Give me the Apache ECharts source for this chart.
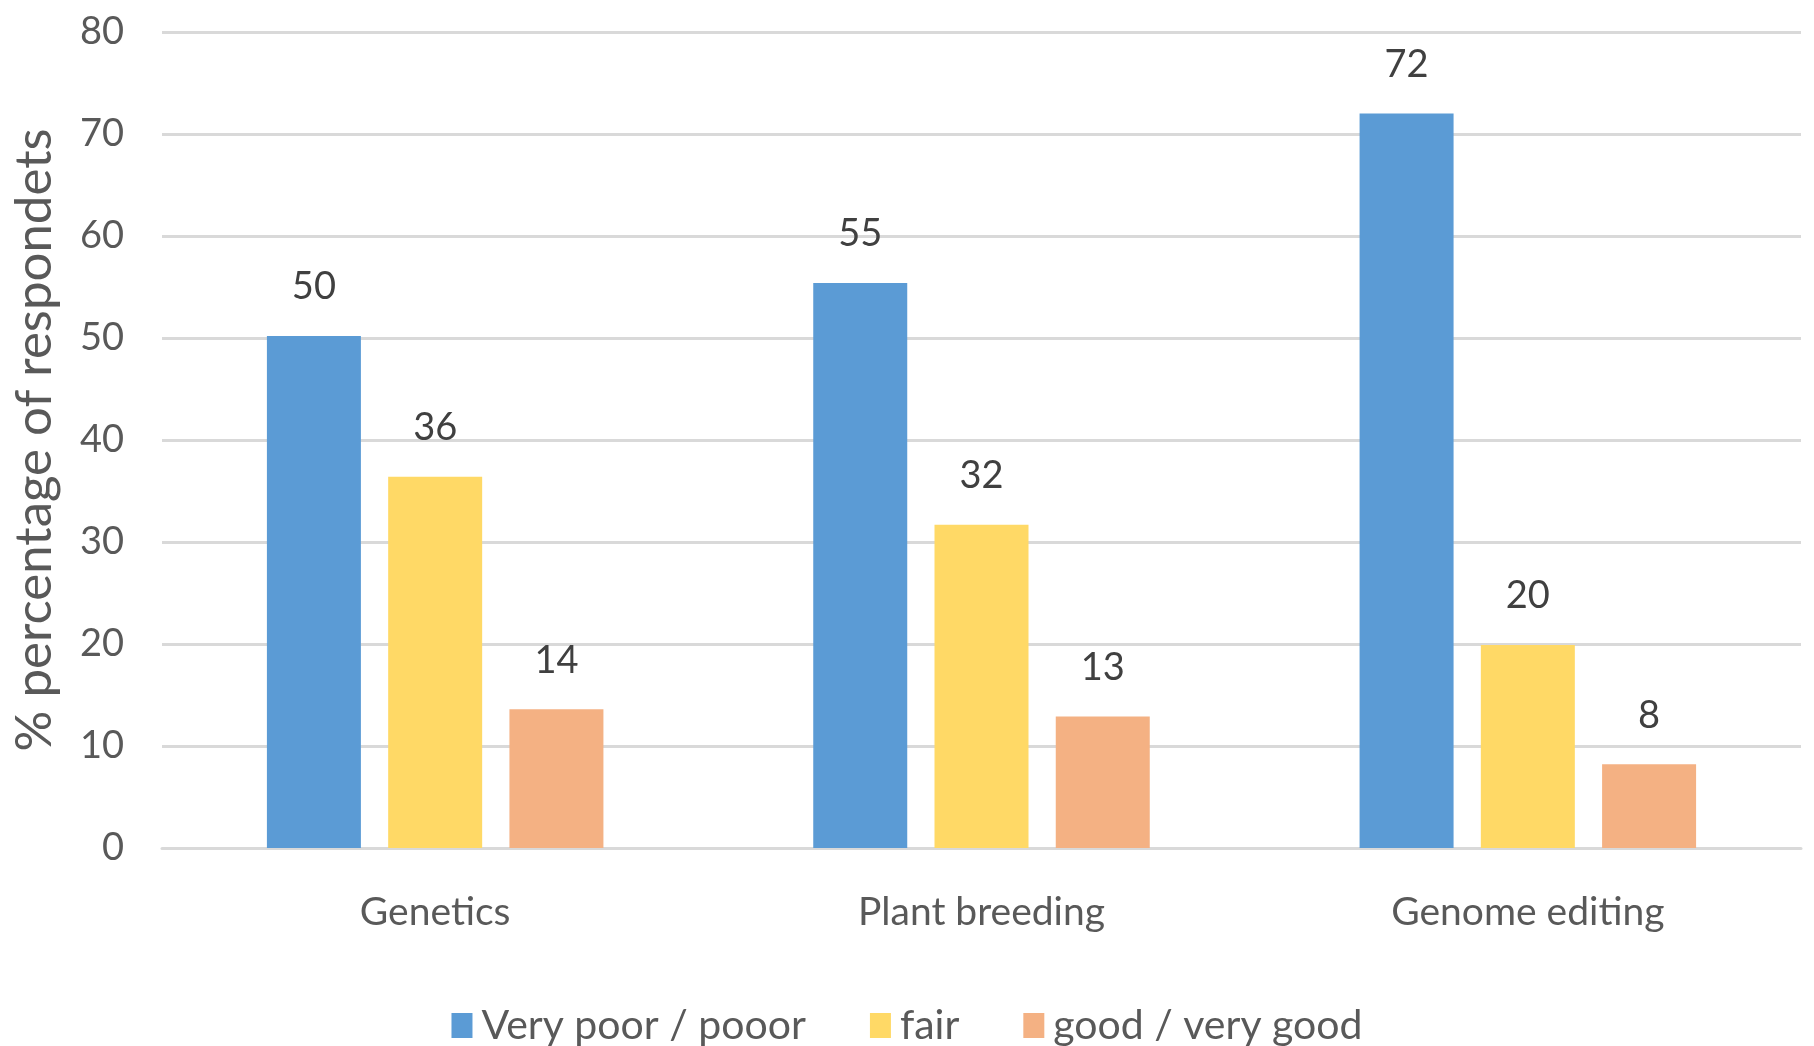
<!DOCTYPE html>
<html>
<head>
<meta charset="utf-8">
<script src="https://cdn.jsdelivr.net/npm/echarts@6/dist/echarts.min.js"></script>
<style>
  html, body { margin: 0; padding: 0; background: #fff; }
  #chart { width: 1814px; height: 1046px; }
</style>
</head>
<body>
<div id="chart"></div>
<script>
var categories = ['Genetics', 'Plant breeding', 'Genome editing'];
var seriesNames = ['Very poor / pooor', 'fair', 'good / very good'];
var veryPoor = [50.2, 55.4, 72.0];
var fair = [36.4, 31.7, 19.9];
var good = [13.6, 12.9, 8.2];
var yTicks = [0, 10, 20, 30, 40, 50, 60, 70, 80];

var colors = ['#5B9BD5', '#FFD966', '#F4B183'];
var font = 'Lato';

var myChart = echarts.init(document.getElementById('chart'));

function barSeries(name, data, color) {
    return {
        name: name,
        type: 'bar',
        barWidth: 94,
        barGap: '29%',
        data: data,
        itemStyle: { color: color },
        label: {
            show: true,
            position: 'top',
            distance: 30,
            color: '#404040',
            fontFamily: font,
            fontSize: 38,
            formatter: function (p) { return Math.round(p.value); }
        }
    };
}

var option = {
    animation: false,
    backgroundColor: '#fff',
    grid: {
        left: 162,
        right: 13,
        top: 32,
        bottom: 198,
        outerBoundsMode: 'none'
    },
    legend: {
        top: 1000,
        left: 'center',
        itemWidth: 21,
        itemHeight: 25,
        itemGap: 64,
        icon: 'rect',
        data: seriesNames,
        textStyle: {
            color: '#595959',
            fontFamily: font,
            fontSize: 41,
            padding: [0, 0, 0, 4]
        }
    },
    xAxis: {
        type: 'category',
        data: categories,
        axisLine: { lineStyle: { color: '#D9D9D9', width: 3 } },
        axisTick: { show: false },
        axisLabel: {
            color: '#595959',
            fontFamily: font,
            fontSize: 39,
            margin: 45
        }
    },
    yAxis: {
        type: 'value',
        min: yTicks[0],
        max: yTicks[yTicks.length - 1],
        interval: 10,
        name: '% percentage of respondets',
        nameLocation: 'middle',
        nameGap: 102,
        nameTextStyle: {
            color: '#595959',
            fontFamily: font,
            fontSize: 51
        },
        axisLine: { show: false },
        axisTick: { show: false },
        axisLabel: {
            color: '#595959',
            fontFamily: font,
            fontSize: 38,
            margin: 38
        },
        splitLine: { lineStyle: { color: '#D9D9D9', width: 3 } }
    },
    series: [
        barSeries(seriesNames[0], veryPoor, colors[0]),
        barSeries(seriesNames[1], fair, colors[1]),
        barSeries(seriesNames[2], good, colors[2])
    ]
};
myChart.setOption(option);
</script>
</body>
</html>
